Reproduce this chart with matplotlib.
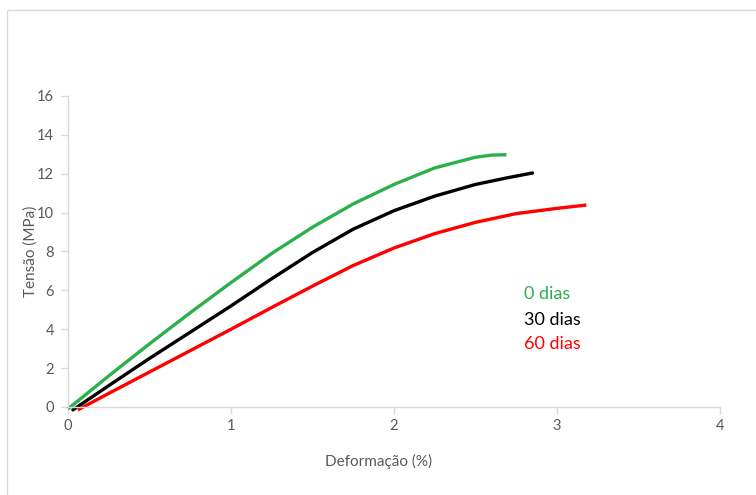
import matplotlib
matplotlib.use("Agg")
import matplotlib.pyplot as plt
from matplotlib.patches import Rectangle

# Data
x_0d = [0.0, 0.25, 0.5, 0.75, 1.0, 1.25, 1.5, 1.75, 2.0, 2.25, 2.5, 2.6, 2.69]
y_0d = [-0.1, 1.6, 3.25, 4.85, 6.4, 7.9, 9.25, 10.45, 11.45, 12.3, 12.85, 12.96, 12.98]

x_30d = [0.03, 0.25, 0.5, 0.75, 1.0, 1.25, 1.5, 1.75, 2.0, 2.25, 2.5, 2.7, 2.85]
y_30d = [-0.15, 1.1, 2.5, 3.85, 5.2, 6.6, 7.95, 9.15, 10.1, 10.85, 11.45, 11.8, 12.04]

x_60d = [0.06, 0.25, 0.5, 0.75, 1.0, 1.25, 1.5, 1.75, 2.0, 2.25, 2.5, 2.75, 3.0, 3.18]
y_60d = [-0.15, 0.7, 1.8, 2.9, 4.0, 5.12, 6.22, 7.28, 8.18, 8.92, 9.5, 9.95, 10.22, 10.39]

labels = ["0 dias", "30 dias", "60 dias"]
colors = ["#2BB04B", "#000000", "#FF0000"]
x_ticks = [0, 1, 2, 3, 4]
y_ticks = [0, 2, 4, 6, 8, 10, 12, 14, 16]

plt.rcParams['font.family'] = ['Lato', 'DejaVu Sans']

fig = plt.figure(figsize=(7.56, 4.95), dpi=100)
fig.patches.append(Rectangle((7/756, -0.1), 1.2, (495-10)/495 + 0.1,
                             transform=fig.transFigure, fill=False,
                             edgecolor="#D9D9D9", linewidth=1.0))
ax = fig.add_axes([68/756, (495-407)/495, (720-68)/756, (407-96)/495])

series = [(x_0d, y_0d), (x_30d, y_30d), (x_60d, y_60d)]
for (xs, ys), c in zip(series, colors):
    ax.plot(xs, ys, color=c, linewidth=2.4, clip_on=False,
            solid_capstyle='round' if c == "#000000" else 'butt',
            solid_joinstyle='round')

ax.set_xlim(0, 4)
ax.set_ylim(0, 16)
ax.set_xticks(x_ticks)
ax.set_yticks(y_ticks)
ax.tick_params(axis='both', colors="#D9D9D9", labelcolor="#595959",
               labelsize=10.5, length=5, width=1)
ax.tick_params(axis='y', pad=5)
for s in ['top', 'right']:
    ax.spines[s].set_visible(False)
for s in ['left', 'bottom']:
    ax.spines[s].set_color("#D9D9D9")
    ax.spines[s].set_linewidth(1.0)

ax.set_xlabel("Deformação (%)", color="#595959", fontsize=11)
ax.xaxis.set_label_coords(0.477, -0.15)
ax.set_ylabel("Tensão (MPa)", color="#595959", fontsize=11)
ax.yaxis.set_label_coords(-0.047, 0.5)

label_y = [5.8, 4.5, 3.25]
for lab, c, ly in zip(labels, colors, label_y):
    ax.text(2.80, ly, lab, color=c, fontsize=13, va='center', ha='left')

fig.savefig("out.png", dpi=100)
